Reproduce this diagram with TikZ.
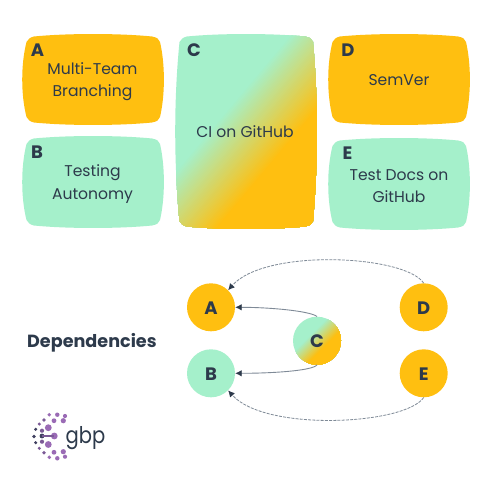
\documentclass[tikz,border=0pt]{standalone}
\usepackage{fontspec}
\setmainfont{Poppins}
\definecolor{amber}{HTML}{FFBF10}
\definecolor{mint}{HTML}{A5F0CB}
\definecolor{ink}{HTML}{2D3A4B}
\definecolor{wire}{HTML}{7F8A97}
\definecolor{plum}{HTML}{9A6BB5}
\definecolor{dusk}{HTML}{3F4060}
\definecolor{grape}{HTML}{7B5A96}
\newcommand{\blobpath}[4]{({#1+12},{#2+2.5}) .. controls ({#1+45},{#2-0.8}) and ({#3-45},{#2-0.8}) .. ({#3-12},{#2+2.5})
 .. controls ({#3-7},{#2+3.5}) and ({#3-5},{#2+5}) .. ({#3-4},{#2+8})
 .. controls ({#3+1.2},{#2+(#4-#2)/3}) and ({#3+1.2},{#4-(#4-#2)/3}) .. ({#3-4},{#4-8})
 .. controls ({#3-5},{#4-5}) and ({#3-7},{#4-3.5}) .. ({#3-12},{#4-2.5})
 .. controls ({#3-45},{#4+0.8}) and ({#1+45},{#4+0.8}) .. ({#1+12},{#4-2.5})
 .. controls ({#1+8},{#4-3.5}) and ({#1+6},{#4-5}) .. ({#1+4.5},{#4-8})
 .. controls ({#1-1.2},{#4-(#4-#2)/3}) and ({#1-1.2},{#2+(#4-#2)/3}) .. ({#1+4.5},{#2+8})
 .. controls ({#1+6},{#2+5}) and ({#1+8},{#2+3.5}) .. ({#1+12},{#2+2.5}) -- cycle}
% stripes from mint to amber, across a band of half-width #1, reaching out to #2
\newcommand{\blend}[2]{%
  \fill[mint] (-#2,-#2) rectangle (#2,#2);
  \foreach \i in {0,...,40}{%
    \pgfmathsetmacro{\pct}{100-\i*2.5}
    \fill[mint!\pct!amber] ({-#1+#1*2*\i/40},-#2) rectangle (#2,#2);
  }}
\tikzset{
  x=1pt,y=-1pt,
  title/.style={text=ink,font=\fontsize{15.6}{18}\selectfont,anchor=base,inner sep=0pt},
  letter/.style={text=ink,font=\fontsize{18}{20}\selectfont\bfseries,anchor=base,inner sep=0pt},
  bubble/.style={circle,minimum size=48pt,inner sep=0pt},
  solidlink/.style={draw=wire,line width=0.9pt,-{Latex[length=6.5pt,width=6.5pt,color=ink]}},
  dashlink/.style={draw=wire,line width=0.8pt,dash pattern=on 3pt off 1.2pt,-{Latex[length=6.5pt,width=6.5pt,color=ink]}},
}
\usetikzlibrary{arrows.meta}
\begin{document}
\begin{tikzpicture}
\useasboundingbox (0,0) rectangle (500,481);
\fill[white] (0,0) rectangle (500,481);
% cards
\fill[amber] \blobpath{22}{34}{164}{125};
\fill[mint] \blobpath{22}{136}{164}{228};
\fill[amber] \blobpath{328}{34}{470}{125};
\fill[mint] \blobpath{328}{138}{470}{230};
\begin{scope}
\clip \blobpath{175}{34}{317}{229};
\begin{scope}[shift={(250,135)},rotate=-40]
\blend{34}{200}
\end{scope}
\end{scope}
% card text
\node[letter] (la) at (37.5,57) {A};
\node[letter] (lb) at (37,159) {B};
\node[letter] (lc) at (194,57) {C};
\node[letter] (ld) at (348,57) {D};
\node[letter] (le) at (347.5,160) {E};
\node[title] (t1) at (92.5,75) {Multi-Team};
\node[title] (t2) at (92.5,97) {Branching};
\node[title] (t3) at (92.5,177) {Testing};
\node[title] (t4) at (92.5,199.5) {Autonomy};
\node[title] (t5) at (245,138) {CI on GitHub};
\node[title] (t6) at (399,86) {SemVer};
\node[title] (t7) at (399,180) {Test Docs on};
\node[title] (t8) at (399,202) {GitHub};
% dependency graph
\node[bubble,fill=amber] (A) at (211,307.3) {};
\node[bubble,fill=mint] (B) at (211,373.3) {};
\node[bubble,fill=amber] (D) at (423.7,307.3) {};
\node[bubble,fill=amber] (E) at (423.7,373.3) {};
\begin{scope}
\clip (317,340.7) circle (24);
\begin{scope}[shift={(317.5,341)},rotate=-45]
\blend{9}{40}
\end{scope}
\end{scope}
\node[bubble] (C) at (317,340.7) {};
\node[letter] at (A.center |- 0,314) {A};
\node[letter] at (B.center |- 0,380.5) {B};
\node[letter] at (C.center |- 0,347.5) {C};
\node[letter] at (D.center |- 0,314) {D};
\node[letter] at (E.center |- 0,380.5) {E};
\draw[solidlink] (C.north) .. controls (310,311) and (270,307.3) .. (A.east);
\draw[solidlink] (C.south) .. controls (312,371) and (270,373.3) .. (B.east);
\draw[dashlink] (D.north) .. controls (405,255) and (265,248) .. (A.north east);
\draw[dashlink] (E.south) .. controls (405,425) and (265,432) .. (B.south east);
\node[text=ink,font=\fontsize{17.6}{20}\selectfont\bfseries,anchor=base west,inner sep=0pt] (dep) at (27,347) {Dependencies};
% logo
\foreach \x/\y/\r in {49.3/414.7/1.9,57.3/414.7/2.2,65/416/2.1,54/420.7/2.4,63.3/420.7/2.6,48.3/427.7/3.4,54.3/436/3.4,48.3/444.5/3.4,54/452.3/2.4,63.3/451.7/2.6,49.3/457.3/1.9,57.3/458.3/2.2,65/456.7/2.1}
  \fill[plum] (\x,\y) circle (\r);
\foreach \x/\y/\r in {44/420/1.9,39.3/424/1.7,42/430.7/2.1,42/441.7/2.1,39.3/448.3/1.7,44/452.7/1.9}
  \fill[grape] (\x,\y) circle (\r);
\foreach \x/\y/\r in {35.7/429.3/1.7,34/436.5/1.8,42/436/2.4,35.7/442.7/1.7}
  \fill[dusk] (\x,\y) circle (\r);
\draw[grape,line width=1.3pt] (42,436) -- (54.3,436);
\node[text=ink,font=\fontsize{23}{28}\selectfont,anchor=base west,inner sep=0pt] (gbp) at (65.5,443) {\scalebox{0.85}[1]{gbp}};
\end{tikzpicture}
\end{document}
